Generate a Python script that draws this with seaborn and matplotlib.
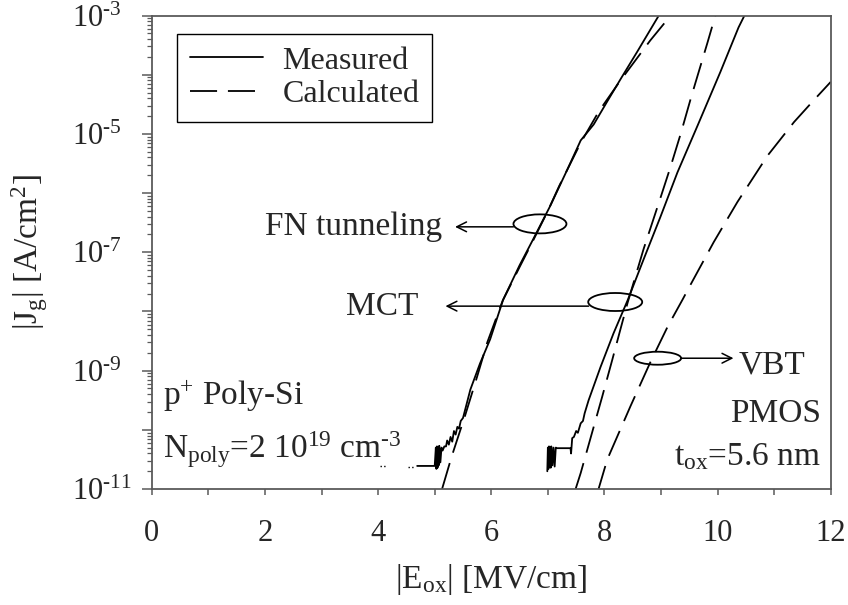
import numpy as np
import pandas as pd
import matplotlib
matplotlib.use("Agg")
import matplotlib.pyplot as plt
import seaborn as sns
from matplotlib.patches import Ellipse
from matplotlib.lines import Line2D
from matplotlib.ticker import MultipleLocator, LogLocator, FuncFormatter, NullFormatter

# ---------------- data (E in MV/cm, log10 of |Jg| in A/cm^2) ----------------
fn_meas_x = [4.69, 5.00, 5.02, 5.03, 5.04, 5.05, 5.06, 5.07, 5.08, 5.10, 5.12, 5.14,
             5.17, 5.20, 5.22, 5.25, 5.28, 5.31, 5.34, 5.37, 5.40, 5.43, 5.46, 5.50,
             5.63, 5.80, 5.98, 6.21, 6.50, 6.74, 7.04, 7.35, 7.58, 7.81, 8.05, 8.30,
             8.58, 8.96]
fn_meas_logj = [-10.61, -10.61, -10.30, -10.66, -10.28, -10.64, -10.32, -10.60, -10.27,
                -10.55, -10.30, -10.35, -10.28, -10.28, -10.18, -10.25, -10.12, -10.20,
                -10.02, -10.08, -9.95, -9.98, -9.85, -9.80, -9.32, -8.88, -8.47, -7.80,
                -7.22, -6.78, -6.22, -5.59, -5.11, -4.84, -4.45, -4.05, -3.61, -3.00]
fn_floor_x = [4.04, 4.16, 4.53, 4.65]
fn_floor_logj = [-10.61, -10.61, -10.62, -10.62]

fn_calc_x = [5.13, 5.30, 5.54, 5.75, 5.93, 6.20, 6.50, 6.74, 7.00, 7.20, 7.58, 7.90,
             8.28, 8.81, 9.17]
fn_calc_logj = [-11.0, -10.45, -9.75, -9.10, -8.52, -7.82, -7.25, -6.80, -6.30, -5.88,
                -5.15, -4.62, -4.10, -3.42, -3.00]

mct_meas_x = [6.99, 7.00, 7.01, 7.02, 7.03, 7.04, 7.05, 7.06, 7.08, 7.10, 7.12, 7.14,
              7.16, 7.40, 7.41, 7.43, 7.46, 7.50, 7.53, 7.58, 7.62, 7.65, 7.72, 7.93,
              8.16, 8.41, 8.70, 8.99, 9.29, 9.65, 10.05, 10.37, 10.50]
mct_meas_logj = [-10.70, -10.30, -10.66, -10.28, -10.62, -10.30, -10.64, -10.28, -10.60,
                 -10.30, -10.62, -10.30, -10.31, -10.31, -10.40, -10.14, -10.12, -10.02,
                 -10.05, -9.89, -9.85, -9.72, -9.50, -8.94, -8.37, -7.81, -7.10, -6.40,
                 -5.65, -4.85, -3.95, -3.20, -2.95]

mct_calc_x = [7.49, 7.58, 7.96, 8.14, 8.28, 8.41, 8.69, 9.00, 9.17, 9.35, 9.52, 9.61,
              9.82, 9.96]
mct_calc_logj = [-11.0, -10.73, -9.44, -8.81, -8.31, -7.85, -6.95, -6.05, -5.55, -4.99,
                 -4.42, -4.13, -3.46, -3.00]

vbt_calc_x = [7.88, 8.05, 8.46, 8.81, 9.12, 9.38, 9.52, 9.93, 10.35, 10.88, 11.35, 11.70,
              12.0]
vbt_calc_logj = [-11.05, -10.5, -9.6, -8.86, -8.25, -7.8, -7.55, -6.83, -6.15, -5.37,
                 -4.80, -4.43, -4.12]

legend_labels = ["Measured", "Calculated"]

# ---------------- style ----------------
sns.set_style("ticks")
plt.rcParams["font.family"] = ["Liberation Serif", "DejaVu Serif"]
plt.rcParams["mathtext.fontset"] = "custom"
plt.rcParams["mathtext.rm"] = "Liberation Serif"
plt.rcParams["mathtext.it"] = "Liberation Serif"
plt.rcParams["mathtext.bf"] = "Liberation Serif:bold"

FS = 24
TFS = 22
SPINE = "#5a5a5a"
DASH = (0, (15, 6))

fig = plt.figure(figsize=(8.48, 6.05), dpi=100)
ax = fig.add_axes([0.179, 0.1917, 0.8007, 0.7826])


def draw(x, lj, ls="-", lw=1.3):
    df = pd.DataFrame({"E": x, "J": 10.0 ** np.asarray(lj)})
    sns.lineplot(data=df, x="E", y="J", ax=ax, sort=False, estimator=None,
                 color="black", lw=lw, linestyle=ls, legend=False)


draw(fn_meas_x, fn_meas_logj)
draw(fn_floor_x[:2], fn_floor_logj[:2], ls=":", lw=1.0)
draw(fn_floor_x[2:], fn_floor_logj[2:], ls=":", lw=1.0)
draw(fn_calc_x, fn_calc_logj, ls=DASH)
draw(mct_meas_x, mct_meas_logj)
draw(mct_calc_x, mct_calc_logj, ls=DASH)
draw(vbt_calc_x, vbt_calc_logj, ls=DASH)

ax.set_yscale("log")
ax.set_xlim(0, 12)
ax.set_ylim(1e-11, 1e-3)

ax.xaxis.set_major_locator(MultipleLocator(2))
ax.xaxis.set_minor_locator(MultipleLocator(1))
ax.yaxis.set_major_locator(LogLocator(base=10, numticks=30))
ax.yaxis.set_minor_locator(LogLocator(base=10, subs=np.arange(2, 10), numticks=100))
ax.yaxis.set_minor_formatter(NullFormatter())


def yfmt(v, pos):
    e = int(round(np.log10(v)))
    return f"$10^{{\\text{{-}}{abs(e)}}}$" if e % 2 == 1 else ""


ax.yaxis.set_major_formatter(FuncFormatter(yfmt))

for s in ax.spines.values():
    s.set_color(SPINE)
    s.set_linewidth(1.3)
ax.tick_params(axis="x", which="both", direction="out", length=4.3, width=1.1,
               color=SPINE, labelsize=TFS, pad=17)
ax.tick_params(axis="y", which="major", direction="out", length=7.2, width=1.1,
               color=SPINE, labelsize=TFS, pad=50)
ax.tick_params(axis="y", which="minor", direction="out", length=3.6, width=0.9,
               color=SPINE)

ax.set_xlabel("|E$_{\\mathrm{ox}}$| [MV/cm]", fontsize=FS)
ax.set_ylabel("|J$_{\\mathrm{g}}$| [A/cm$^{2}$]", fontsize=FS)
ax.xaxis.set_label_coords(0.5, -0.155)
ax.yaxis.set_label_coords(-0.15, 0.5)

# legend
handles = [Line2D([], [], color="black", lw=1.3),
           Line2D([], [], color="black", lw=1.3, linestyle=DASH)]
leg = ax.legend(handles, legend_labels, loc="upper left", bbox_to_anchor=(0.037, 0.962),
                borderaxespad=0, fontsize=23, frameon=True, fancybox=False,
                edgecolor="black", framealpha=1, handlelength=2.3, handletextpad=0.6,
                labelspacing=0.12, borderpad=0.4)
leg.get_frame().set_linewidth(1.0)

# annotations
def ell(cx, clj, wpx, hpx):
    e = Ellipse((cx / 12.0, (clj + 11.0) / 8.0), wpx / 679.0, hpx / 473.0,
                transform=ax.transAxes, facecolor="none", edgecolor="black", lw=1.3)
    ax.add_patch(e)


def arrow(x0, x1, lj):
    ax.annotate("", xy=(x1, 10 ** lj), xytext=(x0, 10 ** lj),
                arrowprops=dict(arrowstyle="->,head_length=0.7,head_width=0.35",
                                lw=1.1, color="black", shrinkA=0, shrinkB=0))


ell(6.86, -6.52, 53, 19)
arrow(6.39, 5.36, -6.57)
ax.text(5.13, 10 ** -6.71, "FN tunneling", ha="right", va="baseline", fontsize=FS)

ell(8.19, -7.84, 54, 18)
arrow(7.72, 5.19, -7.91)
ax.text(4.71, 10 ** -8.06, "MCT", ha="right", va="baseline", fontsize=FS)

ell(8.94, -8.79, 47, 13)
arrow(9.35, 10.28, -8.79)
ax.text(10.37, 10 ** -9.04, "VBT", ha="left", va="baseline", fontsize=FS)

ax.text(0.19, 10 ** -9.58, "p$^{+}$ Poly-Si", ha="left", va="baseline", fontsize=FS)
ax.text(0.19, 10 ** -10.48, "N$_{\\mathrm{poly}}$=2 10$^{19}$ cm$^{\\text{-}3}$",
        ha="left", va="baseline", fontsize=FS)
ax.text(11.82, 10 ** -9.87, "PMOS", ha="right", va="baseline", fontsize=FS)
ax.text(11.82, 10 ** -10.59, "t$_{\\mathrm{ox}}$=5.6 nm", ha="right", va="baseline",
        fontsize=FS)

fig.canvas.draw()
for lbl in ax.get_yticklabels():
    lbl.set_horizontalalignment("left")

fig.savefig("out.png", dpi=100)
